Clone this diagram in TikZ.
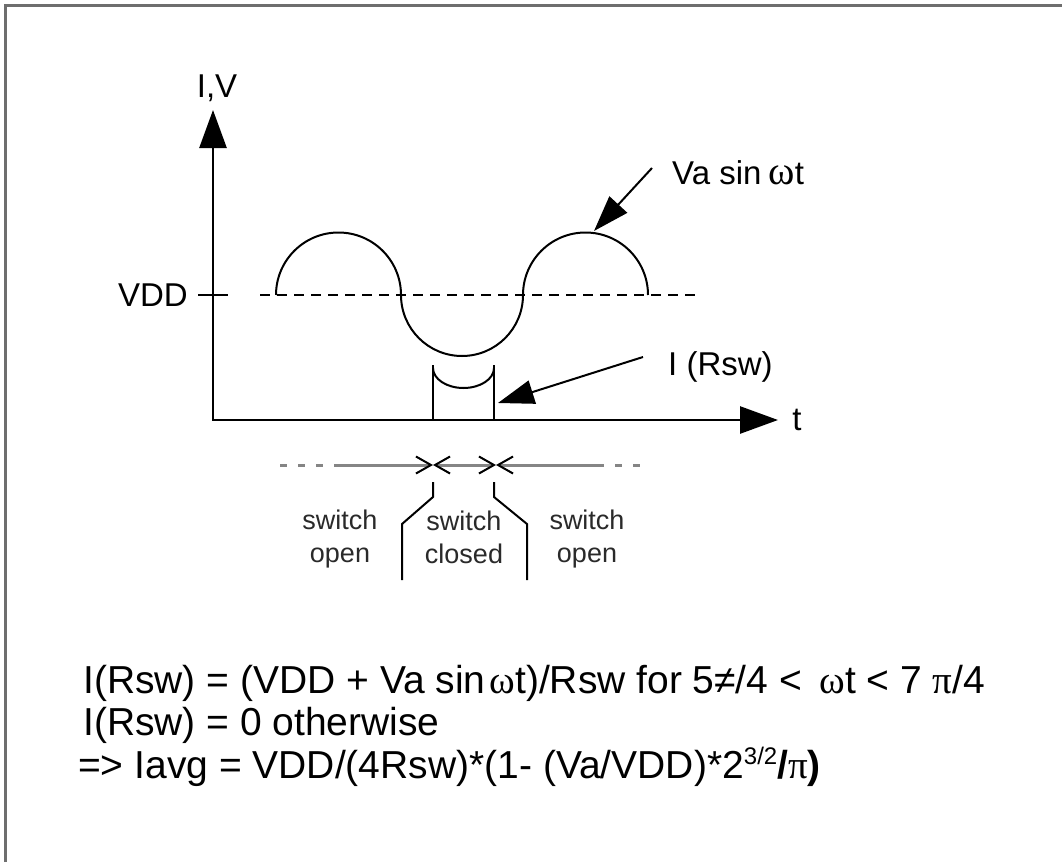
\documentclass[tikz,border=0pt]{standalone}
\usepackage{fontspec}
\setmainfont{Liberation Sans}
\newfontfamily\grk{Liberation Serif}
\usetikzlibrary{arrows.meta,positioning,calc}
\definecolor{frgray}{HTML}{6E6E6E}
\definecolor{tlgray}{HTML}{858585}
\definecolor{txgray}{HTML}{2A2A2A}

\begin{document}
\begin{tikzpicture}[x=1pt,y=-1pt,
    axis/.style={line width=2.6pt,{Triangle[length=38pt,width=27pt]}-{Triangle[length=38pt,width=27pt]}},
    wave/.style={line width=2pt},
    lvl/.style={line width=2pt,dash pattern=on 10pt off 7pt},
    pointer/.style={line width=2pt,-{Triangle[length=36pt,width=24pt]}},
    span/.style={line width=3pt,draw=tlgray},
    spandash/.style={span,dash pattern=on 7pt off 11pt},
    swbarb/.tip={Straight Barb[length=15pt,width=17pt,line width=2pt,color=black]},
    lab/.style={font=\fontsize{33}{38}\selectfont,inner sep=0pt},
    note/.style={font=\fontsize{27}{33}\selectfont,align=center,text=txgray,inner sep=0pt,anchor=north},
    eq/.style={font=\fontsize{39}{45}\selectfont,anchor=base west,inner sep=0pt}]

  \useasboundingbox (0,0) rectangle (1062,862);
  \fill[white] (0,0) rectangle (1062,862);
  % frame, top and left edges only
  \draw[frgray,line width=3pt] (5.5,862) -- (5.5,5.5) -- (1062,5.5);

  % axes
  \coordinate (O) at (213,420);
  \coordinate (ytip) at (213,110);
  \coordinate (xtip) at (778,420);
  \draw[axis] (ytip) -- (O) -- (xtip);
  \node[lab] (ylab) at (217,88) {I,V};
  \node[lab] (tlab) at (797,420) {t};

  % VDD level
  \node[lab,anchor=east] (vdd) at (188,295) {VDD};
  \coordinate (tickl) at (198,295);
  \coordinate (tickr) at (228,295);
  \draw[line width=2pt] (tickl) -- (tickr);
  \coordinate (lvll) at (260,295);
  \coordinate (lvlr) at (700,295);
  \draw[lvl] (lvll) -- (lvlr);

  % Va sin wt, drawn as half circles
  \coordinate (w0) at (276,295);
  \draw[wave] (w0) arc[start angle=180,end angle=0,radius=62.5pt]
    arc[start angle=180,end angle=360,radius=61pt]
    arc[start angle=180,end angle=0,radius=62.5pt];

  % current pulse
  \coordinate (pl) at (433,420);
  \coordinate (pr) at (494,420);
  \draw[wave] (pl) -- ++(0,-55);
  \draw[wave] (pr) -- ++(0,-55);
  \draw[wave] (433,368) arc[start angle=180,end angle=360,x radius=30.5pt,y radius=20pt];

  % labels with pointers
  \node[lab,anchor=west] (valab) at (672,173) {Va sin{\kern7pt\grk\fontsize{40}{40}\selectfont ω}t};
  \coordinate (vatail) at (652,168);
  \coordinate (vahead) at (594,231);
  \draw[pointer] (vatail) -- (vahead);

  \node[lab,anchor=west] (irlab) at (668,367) {I (Rsw)};
  \coordinate (irtail) at (643,357);
  \coordinate (irhead) at (498,403);
  \draw[pointer] (irtail) -- (irhead);

  % switch timeline
  \coordinate (s0) at (280,465);
  \coordinate (s1) at (340,465);
  \coordinate (s2) at (433,465);
  \coordinate (s3) at (496,465);
  \coordinate (s4) at (597,465);
  \coordinate (s5) at (647,465);
  \draw[spandash] (s0) -- (s1);
  \draw[span,-{swbarb}] (s1) -- (s2);
  \draw[span,{swbarb}-{swbarb}] (s2) -- (s3);
  \draw[span,{swbarb}-] (s3) -- (s4);
  \draw[spandash] (s4) -- (s5);

  \draw[line width=2pt] (433,482) -- (433,497) -- (402,524) -- (402,580);
  \draw[line width=2pt] (494,482) -- (494,497) -- (527,524) -- (527,580);

  \node[note] (lopen) at (340,510) {switch\\open};
  \node[note] (closed) at (464,511) {switch\\closed};
  \node[note] (ropen) at (587,510) {switch\\open};

  % equations
  \node[eq] (eqa) at (83,693) {I(Rsw) = (VDD + Va sin{\kern4pt\grk ω}t)/Rsw for 5≠/4 < \,{\grk ω}t < 7 {\grk π}/4};
  \node[eq] (eqb) at (83,735) {I(Rsw) = 0 otherwise};
  \node[eq] (eqc) at (78,778) {=> Iavg = VDD/(4Rsw)*(1- (Va/VDD)*2{\fontsize{24}{24}\selectfont\raisebox{14pt}{3/2}}\textbf{/}{\grk π}\textbf{)}};
\end{tikzpicture}
\end{document}
